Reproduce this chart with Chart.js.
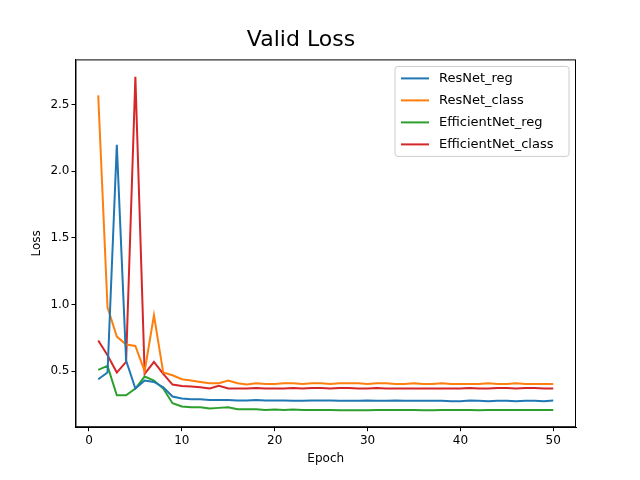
<!DOCTYPE html>
<html><head><meta charset="utf-8">
<script src="https://cdn.jsdelivr.net/npm/chart.js@4"></script>
<style>body{margin:0;background:#fff}#wrap{width:640px;height:480px}</style>
</head><body><div id="wrap"><canvas id="c"></canvas></div>
<script>
const epochs = Array.from({ length: 50 }, (_, i) => i + 1);
const resnetReg = [0.44,0.49,2.20,0.58,0.37,0.43,0.42,0.38,0.31,0.295,0.29,0.29,0.285,0.285,0.285,0.28,0.28,0.285,0.28,0.28,0.28,0.278,0.278,0.28,0.28,0.28,0.278,0.278,0.278,0.28,0.278,0.278,0.28,0.278,0.278,0.278,0.278,0.278,0.275,0.275,0.28,0.278,0.275,0.278,0.278,0.275,0.278,0.278,0.275,0.28];
const resnetClass = [2.57,0.98,0.76,0.70,0.69,0.50,0.92,0.49,0.47,0.44,0.43,0.42,0.41,0.41,0.43,0.41,0.40,0.41,0.405,0.405,0.41,0.41,0.405,0.41,0.41,0.405,0.41,0.41,0.41,0.405,0.41,0.41,0.405,0.405,0.41,0.405,0.405,0.41,0.405,0.405,0.405,0.405,0.41,0.405,0.405,0.41,0.405,0.405,0.405,0.405];
const effReg = [0.51,0.54,0.32,0.32,0.37,0.46,0.43,0.37,0.26,0.235,0.23,0.23,0.22,0.225,0.23,0.215,0.215,0.215,0.21,0.212,0.21,0.212,0.21,0.21,0.21,0.21,0.208,0.208,0.208,0.208,0.21,0.21,0.21,0.21,0.21,0.208,0.208,0.21,0.21,0.21,0.21,0.208,0.21,0.21,0.21,0.21,0.21,0.21,0.21,0.21];
const effClass = [0.73,0.62,0.49,0.57,2.71,0.48,0.57,0.48,0.40,0.39,0.385,0.38,0.37,0.39,0.37,0.37,0.37,0.375,0.37,0.37,0.37,0.375,0.37,0.375,0.375,0.37,0.375,0.375,0.37,0.37,0.375,0.37,0.37,0.37,0.37,0.37,0.37,0.37,0.37,0.37,0.375,0.37,0.37,0.375,0.375,0.37,0.375,0.375,0.37,0.37];
const seriesNames = ['ResNet_reg','ResNet_class','EfficientNet_reg','EfficientNet_class'];
const seriesData = [resnetReg, resnetClass, effReg, effClass];
const colors = ['#1f77b4','#ff7f0e','#2ca02c','#d62728'];
const xTicks = [0,10,20,30,40,50];
const yTicks = [0.5,1.0,1.5,2.0,2.5];

const framePlugin = {
  id: 'frame',
  afterDraw(chart) {
    const ctx = chart.ctx, a = chart.chartArea;
    ctx.save();
    ctx.strokeStyle = '#000'; ctx.lineWidth = 1;
    ctx.strokeRect(a.left + 0.5, a.top + 0.5, a.right - a.left - 1, a.bottom - a.top - 1);
    ctx.restore();
  }
};

const legendPlugin = {
  id: 'innerLegend',
  afterDraw(chart) {
    const ctx = chart.ctx, a = chart.chartArea;
    const w = 174, h = 90, x = a.right - w - 7, y = a.top + 7;
    ctx.save();
    ctx.fillStyle = 'rgba(255,255,255,0.8)';
    ctx.strokeStyle = '#cccccc';
    ctx.lineWidth = 1;
    ctx.beginPath(); ctx.roundRect(x, y, w, h, 3); ctx.fill(); ctx.stroke();
    ctx.font = '13px "DejaVu Sans"';
    ctx.textBaseline = 'middle';
    seriesNames.forEach((n, i) => {
      const yy = y + 12 + i * 22;
      ctx.strokeStyle = colors[i]; ctx.lineWidth = 2;
      ctx.beginPath(); ctx.moveTo(x + 6, yy); ctx.lineTo(x + 34, yy); ctx.stroke();
      ctx.fillStyle = '#000'; ctx.fillText(n, x + 44, yy);
    });
    ctx.restore();
  }
};

const tickGrid = { display: true, drawOnChartArea: false, drawTicks: true, tickLength: 4, color: '#000' };

new Chart(document.getElementById('c'), {
  type: 'line',
  data: {
    labels: epochs,
    datasets: seriesNames.map((n, i) => ({
      label: n,
      data: seriesData[i].map((v, j) => ({ x: epochs[j], y: v })),
      borderColor: colors[i],
      borderWidth: 2,
      pointRadius: 0,
      tension: 0
    }))
  },
  options: {
    responsive: true,
    maintainAspectRatio: false,
    animation: false,
    layout: { padding: { left: 26, right: 64, top: 0, bottom: 10 } },
    plugins: {
      legend: { display: false },
      tooltip: { enabled: false },
      title: { display: true, text: 'Valid Loss', color: '#000', font: { family: 'DejaVu Sans', size: 22, weight: 'normal' }, padding: { top: 27, bottom: 6 } }
    },
    scales: {
      x: {
        type: 'linear', min: -1.45, max: 52.45,
        afterBuildTicks: s => { s.ticks = xTicks.map(v => ({ value: v })); },
        grid: tickGrid,
        border: { color: '#000', width: 1 },
        ticks: { color: '#000', padding: 2, font: { family: 'DejaVu Sans', size: 12 } },
        title: { display: true, text: 'Epoch', color: '#000', padding: { top: 2 }, font: { family: 'DejaVu Sans', size: 12 } }
      },
      y: {
        min: 0.08, max: 2.84,
        afterBuildTicks: s => { s.ticks = yTicks.map(v => ({ value: v })); },
        grid: tickGrid,
        border: { color: '#000', width: 1 },
        ticks: { color: '#000', padding: 2, font: { family: 'DejaVu Sans', size: 12 }, callback: v => v.toFixed(1) },
        title: { display: true, text: 'Loss', color: '#000', font: { family: 'DejaVu Sans', size: 12 } }
      }
    }
  },
  plugins: [framePlugin, legendPlugin]
});
</script></body></html>
